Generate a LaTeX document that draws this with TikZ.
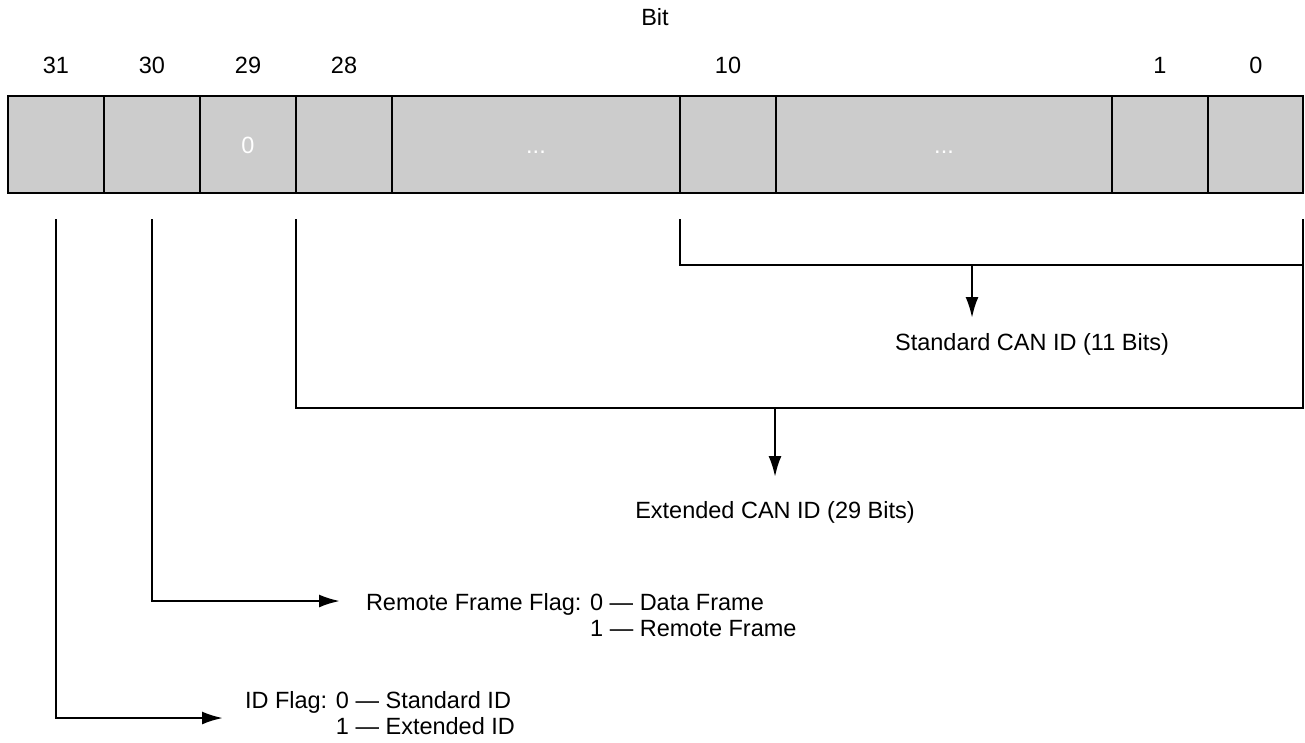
\documentclass[tikz,border=0pt]{standalone}
\usepackage{fontspec}
\setmainfont{Liberation Sans}
\usetikzlibrary{arrows.meta}
\definecolor{cellgray}{HTML}{CCCCCC}
\begin{document}
\begin{tikzpicture}[x=1pt,y=-1pt,
  cell/.style={draw=black, fill=cellgray, line width=2.8pt, minimum height=97pt,
    inner sep=0pt, outer sep=0pt, anchor=north west,
    font=\fontsize{23.5}{26}\selectfont, text=white, text height=17pt, text depth=0pt},
  lbl/.style={inner sep=0pt, outer sep=0pt, font=\fontsize{23.5}{26}\selectfont},
  conn/.style={line width=2.5pt},
  arr/.style={conn, -{Latex[length=21pt,width=13pt]}}]
\useasboundingbox (0,0) rectangle (1305,742);

% title and bit numbers
\node[lbl, anchor=base] (bit) at (655,25) {Bit};
\node[lbl, anchor=base] (b31) at (56,73) {31};
\node[lbl, anchor=base] (b30) at (152,73) {30};
\node[lbl, anchor=base] (b29) at (248,73) {29};
\node[lbl, anchor=base] (b28) at (344,73) {28};
\node[lbl, anchor=base] (b10) at (728,73) {10};
\node[lbl, anchor=base] (b1) at (1160,73) {1};
\node[lbl, anchor=base] (b0) at (1256,73) {0};

% register cells
\node[cell, minimum width=96pt] (c31) at (8,96) {};
\node[cell, minimum width=96pt] (c30) at (104,96) {};
\node[cell, minimum width=96pt] (c29) at (200,96) {0};
\node[cell, minimum width=96pt] (c28) at (296,96) {};
\node[cell, minimum width=288pt] (cA) at (392,96) {...};
\node[cell, minimum width=96pt] (c10) at (680,96) {};
\node[cell, minimum width=336pt] (cB) at (776,96) {...};
\node[cell, minimum width=96pt] (c1) at (1112,96) {};
\node[cell, minimum width=95pt] (c0) at (1208,96) {};

% connector points
\coordinate (s31) at (56,219);
\coordinate (k31) at (56,718);
\coordinate (idtip) at (223,718);
\coordinate (s30) at (152,219);
\coordinate (k30) at (152,601);
\coordinate (rftip) at (340,601);
\coordinate (s28) at (296,219);
\coordinate (k28) at (296,408);
\coordinate (s10) at (680,219);
\coordinate (k10) at (680,265);
\coordinate (s0) at (1303,219);
\coordinate (k0a) at (1303,265);
\coordinate (k0b) at (1303,408);
\coordinate (stdm) at (972,265);
\coordinate (stdtip) at (972,318);
\coordinate (extm) at (775,408);
\coordinate (exttip) at (775,477);

% labels
\node[lbl, anchor=base] (stdlbl) at (1032,350) {Standard CAN ID (11 Bits)};
\node[lbl, anchor=base] (extlbl) at (775,518) {Extended CAN ID (29 Bits)};
\node[lbl, anchor=base west] (rflbl) at (366,610) {Remote Frame Flag: 0 — Data Frame};
\node[lbl, anchor=base west] (rflbl2) at (366,636) {\phantom{Remote Frame Flag: }1 — Remote Frame};
\node[lbl, anchor=base west] (idlbl) at (245,708) {ID Flag: 0 — Standard ID};
\node[lbl, anchor=base west] (idlbl2) at (245,734) {\phantom{ID Flag: }1 — Extended ID};

% connectors
\draw[conn] (s10) -- (k10) -- (k0a) -- (s0);
\draw[conn] (s28) -- (k28) -- (k0b) -- (s0);
\draw[arr] (stdm) -- (stdtip);
\draw[arr] (extm) -- (exttip);
\draw[arr] (s30) -- (k30) -- (rftip);
\draw[arr] (s31) -- (k31) -- (idtip);
\end{tikzpicture}
\end{document}
